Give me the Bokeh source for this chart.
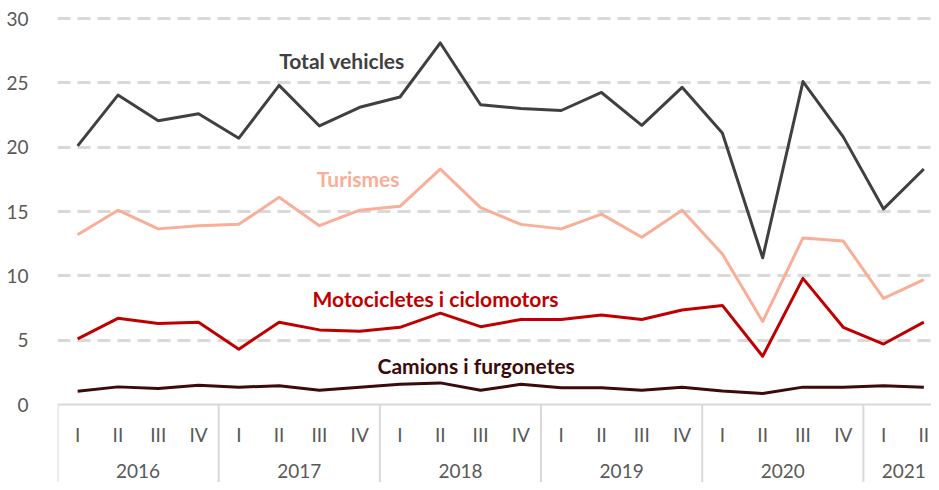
from bokeh.plotting import figure
from bokeh.models import Range1d, FixedTicker, ColumnDataSource, Span
from bokeh.core.properties import value
from bokeh.embed import file_html
from bokeh.resources import INLINE

# ---- data ----
quarters = ["I", "II", "III", "IV"] * 5 + ["I", "II"]
years = ["2016", "2017", "2018", "2019", "2020", "2021"]
quarters_per_year = [4, 4, 4, 4, 4, 2]

total = [20.1, 24.05, 22.05, 22.6, 20.7, 24.8, 21.65, 23.1, 23.9, 28.1, 23.3,
         23.0, 22.85, 24.25, 21.7, 24.65, 21.1, 11.4, 25.1, 20.8, 15.2, 18.3]
turismes = [13.2, 15.1, 13.65, 13.9, 14.0, 16.1, 13.9, 15.1, 15.4, 18.3, 15.3,
            14.0, 13.65, 14.8, 13.0, 15.1, 11.7, 6.45, 12.95, 12.7, 8.25, 9.7]
motos = [5.1, 6.7, 6.3, 6.4, 4.3, 6.4, 5.8, 5.7, 6.0, 7.1, 6.05,
         6.6, 6.6, 6.95, 6.6, 7.35, 7.7, 3.75, 9.8, 6.0, 4.7, 6.4]
camions = [1.03, 1.37, 1.24, 1.5, 1.35, 1.45, 1.1, 1.35, 1.57, 1.68, 1.1,
           1.57, 1.3, 1.3, 1.1, 1.35, 1.05, 0.85, 1.35, 1.35, 1.45, 1.35]

series_names = ["Total vehicles", "Turismes", "Motocicletes i ciclomotors", "Camions i furgonetes"]
series_values = [total, turismes, motos, camions]
series_colors = ["#404040", "#F8AE98", "#C00000", "#3B0A0A"]
# label anchor positions (x in quarter index, y in data units)
label_x = [6.56, 6.96, 8.88, 9.89]
label_y = [26.75, 17.6, 8.2, 3.05]

y_ticks = [0, 5, 10, 15, 20, 25, 30]

FONT = "Lato"
GRAY = "#595959"
LIGHT = "#D9D9D9"
QUARTER_Y = -2.33
YEAR_Y = -5.2
Y_BOTTOM = -6.062

x = list(range(len(quarters)))

p = figure(width=931, height=482, output_backend="svg", toolbar_location=None,
           x_range=Range1d(-0.5, 21.19), y_range=Range1d(Y_BOTTOM, 30.389),
           min_border_left=57, min_border_right=0, min_border_top=13,
           min_border_bottom=0)
p.outline_line_color = None
p.background_fill_color = "white"
p.border_fill_color = "white"
p.xaxis.visible = False
p.xgrid.visible = False

p.ygrid.ticker = FixedTicker(ticks=[t for t in y_ticks if t > 0])
p.ygrid.grid_line_color = LIGHT
p.ygrid.grid_line_width = 3
p.ygrid.grid_line_dash = "13 7"

p.yaxis.ticker = FixedTicker(ticks=y_ticks)
p.yaxis.axis_line_color = None
p.yaxis.major_tick_line_color = None
p.yaxis.minor_tick_line_color = None
p.yaxis.major_label_standoff = 23
p.yaxis.major_label_text_font = FONT
p.yaxis.major_label_text_font_size = "19px"
p.yaxis.major_label_text_color = GRAY

# axis baseline
p.add_layout(Span(location=0, dimension="width", line_color=LIGHT, line_width=2))

# year separators
bounds = [-0.5]
for n in quarters_per_year:
    bounds.append(bounds[-1] + n)
p.segment(x0=bounds, y0=[0] * len(bounds), x1=bounds, y1=[Y_BOTTOM] * len(bounds),
          line_color=LIGHT, line_width=2)

# quarter labels
p.text(x=x, y=[QUARTER_Y] * len(x), text=quarters, text_align="center",
       text_baseline="middle", text_font=value(FONT), text_font_size="19px",
       text_color=GRAY)

# year labels
centers = [(bounds[i] + bounds[i + 1]) / 2 for i in range(len(years))]
p.text(x=centers, y=[YEAR_Y] * len(years), text=years, text_align="center",
       text_baseline="middle", text_font=value(FONT), text_font_size="19px",
       text_color=GRAY)

# series (draw back to front so total is on top)
for vals, col in zip(series_values[::-1], series_colors[::-1]):
    p.line(x, vals, line_color=col, line_width=3, line_join="round")

# series labels
src = ColumnDataSource(dict(x=label_x, y=label_y, text=series_names, color=series_colors))
p.text(x="x", y="y", text="text", source=src, text_color="color", text_align="center",
       text_baseline="middle", text_font=value(FONT), text_font_size="21px",
       text_font_style="bold")

open("out.html", "w").write(file_html(p, INLINE))
